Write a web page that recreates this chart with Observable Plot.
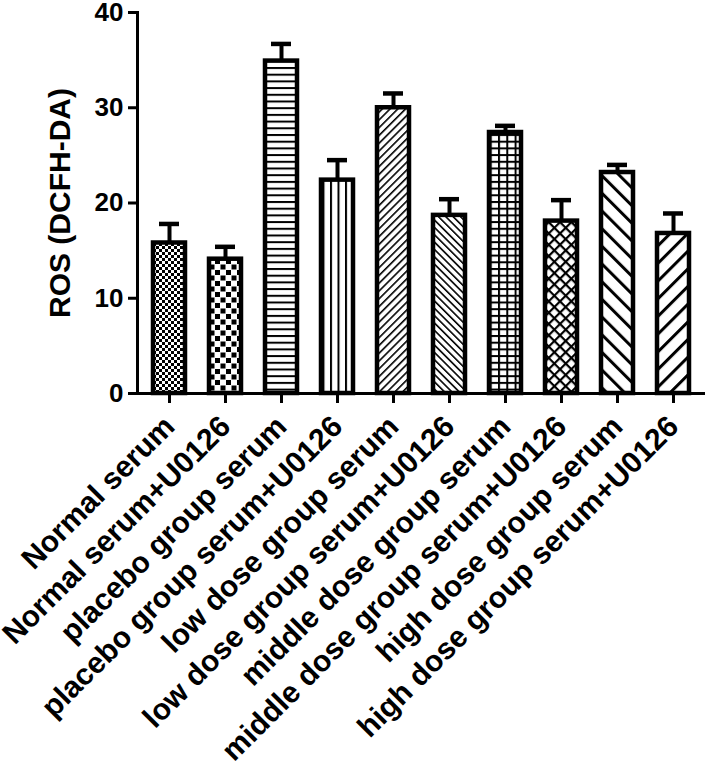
<!DOCTYPE html>
<html>
<head>
<meta charset="utf-8">
<script src="https://cdn.jsdelivr.net/npm/d3@7"></script>
<script src="https://cdn.jsdelivr.net/npm/@observablehq/plot@0.6"></script>
<style>
  html, body { margin: 0; padding: 0; background: #fff; }
  #chart svg { display: block; }
</style>
</head>
<body>
<div id="chart"></div>
<script>
// ---- data ----
const categories = [
  "Normal serum",
  "Normal serum+U0126",
  "placebo group serum",
  "placebo group serum+U0126",
  "low dose group serum",
  "low dose group serum+U0126",
  "middle dose group serum",
  "middle dose group serum+U0126",
  "high dose group serum",
  "high dose group serum+U0126"
];
const values = [15.8, 14.1, 34.9, 22.4, 30.0, 18.7, 27.4, 18.1, 23.2, 16.8];
const errors = [2.0, 1.3, 1.8, 2.1, 1.5, 1.7, 0.7, 2.2, 0.8, 2.1];
const yTicks = [0, 10, 20, 30, 40];
const yLabel = "ROS (DCFH-DA)";

// ---- table built from arrays ----
const data = categories.map((c, i) => ({
  cat: c,
  value: values[i],
  top: values[i] + errors[i],
  pat: `url(#pat${i})`
}));

const font = "'Liberation Sans', Arial, Helvetica, sans-serif";

const chart = Plot.plot({
  width: 709,
  height: 767,
  marginLeft: 137,
  marginRight: 4,
  marginTop: 12,
  marginBottom: 374,
  style: { fontFamily: font, fontWeight: "bold", color: "black", background: "white" },
  x: { domain: categories, paddingInner: 0.42, paddingOuter: 0.21, label: null },
  y: { domain: [0, 40], label: null },
  color: { type: "identity" },
  marks: [
    Plot.barY(data, { x: "cat", y: "value", fill: "pat", stroke: "black", strokeWidth: 4.5 }),
    Plot.ruleX(data, { x: "cat", y1: "value", y2: "top", stroke: "black", strokeWidth: 4 }),
    Plot.tickY(data, { x: "cat", y: "top", stroke: "black", strokeWidth: 4.5, insetLeft: 6, insetRight: 6 }),
    Plot.ruleY([0], { stroke: "black", strokeWidth: 3 }),
    Plot.frame({ anchor: "left", stroke: "black", strokeWidth: 3 }),
    Plot.axisY({ ticks: yTicks, tickSize: 9, tickPadding: 5, strokeWidth: 3, fontSize: 26, fontWeight: "bold", label: null }),
    Plot.axisX({ tickSize: 10, tickPadding: 18, strokeWidth: 3, tickRotate: -45, fontSize: 30, fontWeight: "bold", label: null }),
    Plot.text([yLabel], { frameAnchor: "left", dx: -77, rotate: -90, text: d => d, fontSize: 30, fontWeight: "bold", textAnchor: "middle", lineAnchor: "middle" })
  ]
});

const defs = `
<pattern id="pat0" width="6" height="6" patternUnits="userSpaceOnUse">
  <rect width="6" height="6" fill="white"/><rect width="3" height="3" fill="black"/><rect x="3" y="3" width="3" height="3" fill="black"/>
</pattern>
<pattern id="pat1" width="11" height="11" patternUnits="userSpaceOnUse">
  <rect width="11" height="11" fill="white"/><rect x="0.5" y="0.5" width="5" height="5" fill="black"/><rect x="6" y="6" width="5" height="5" fill="black"/>
</pattern>
<pattern id="pat2" width="10" height="6.7" patternUnits="userSpaceOnUse">
  <rect width="10" height="6.7" fill="white"/><rect width="10" height="2" fill="black"/>
</pattern>
<pattern id="pat3" width="7.5" height="10" patternUnits="userSpaceOnUse">
  <rect width="7.5" height="10" fill="white"/><rect width="2" height="10" fill="black"/>
</pattern>
<pattern id="pat4" width="5.5" height="10" patternUnits="userSpaceOnUse" patternTransform="rotate(45)">
  <rect width="5.5" height="10" fill="white"/><rect width="1.6" height="10" fill="black"/>
</pattern>
<pattern id="pat5" width="5.2" height="10" patternUnits="userSpaceOnUse" patternTransform="rotate(-45)">
  <rect width="5.2" height="10" fill="white"/><rect width="1.6" height="10" fill="black"/>
</pattern>
<pattern id="pat6" width="8.3" height="6.7" patternUnits="userSpaceOnUse">
  <rect width="8.3" height="6.7" fill="white"/><rect width="2" height="6.7" fill="black"/><rect width="8.3" height="2" fill="black"/>
</pattern>
<pattern id="pat7" width="8" height="8" patternUnits="userSpaceOnUse" patternTransform="rotate(45)">
  <rect width="8" height="8" fill="white"/><rect width="2.2" height="8" fill="black"/><rect width="8" height="2.2" fill="black"/>
</pattern>
<pattern id="pat8" width="12.5" height="10" patternUnits="userSpaceOnUse" patternTransform="rotate(-45)">
  <rect width="12.5" height="10" fill="white"/><rect width="3" height="10" fill="black"/>
</pattern>
<pattern id="pat9" width="12.5" height="10" patternUnits="userSpaceOnUse" patternTransform="rotate(45)">
  <rect width="12.5" height="10" fill="white"/><rect width="3" height="10" fill="black"/>
</pattern>`;

d3.select(chart).insert("defs", ":first-child").html(defs);
document.getElementById("chart").appendChild(chart);
</script>
</body>
</html>
